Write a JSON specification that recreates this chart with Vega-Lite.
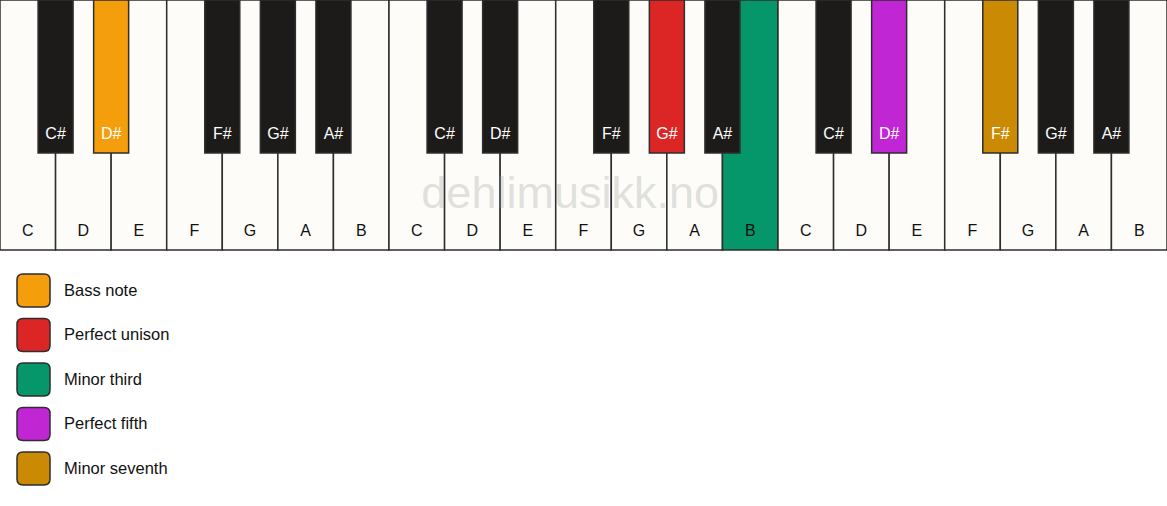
{
  "$schema": "https://vega.github.io/schema/vega-lite/v6.json",
  "width": 1167,
  "height": 506,
  "padding": 0,
  "autosize": "none",
  "background": "#ffffff",
  "data": {
    "values": [
      {"kind": "white", "note": "C", "k": 0, "role": "white"},
      {"kind": "white", "note": "D", "k": 1, "role": "white"},
      {"kind": "white", "note": "E", "k": 2, "role": "white"},
      {"kind": "white", "note": "F", "k": 3, "role": "white"},
      {"kind": "white", "note": "G", "k": 4, "role": "white"},
      {"kind": "white", "note": "A", "k": 5, "role": "white"},
      {"kind": "white", "note": "B", "k": 6, "role": "white"},
      {"kind": "white", "note": "C", "k": 7, "role": "white"},
      {"kind": "white", "note": "D", "k": 8, "role": "white"},
      {"kind": "white", "note": "E", "k": 9, "role": "white"},
      {"kind": "white", "note": "F", "k": 10, "role": "white"},
      {"kind": "white", "note": "G", "k": 11, "role": "white"},
      {"kind": "white", "note": "A", "k": 12, "role": "white"},
      {"kind": "white", "note": "B", "k": 13, "role": "Minor third"},
      {"kind": "white", "note": "C", "k": 14, "role": "white"},
      {"kind": "white", "note": "D", "k": 15, "role": "white"},
      {"kind": "white", "note": "E", "k": 16, "role": "white"},
      {"kind": "white", "note": "F", "k": 17, "role": "white"},
      {"kind": "white", "note": "G", "k": 18, "role": "white"},
      {"kind": "white", "note": "A", "k": 19, "role": "white"},
      {"kind": "white", "note": "B", "k": 20, "role": "white"},
      {"kind": "black", "note": "C#", "k": 0.5, "role": "black"},
      {"kind": "black", "note": "D#", "k": 1.5, "role": "Bass note"},
      {"kind": "black", "note": "F#", "k": 3.5, "role": "black"},
      {"kind": "black", "note": "G#", "k": 4.5, "role": "black"},
      {"kind": "black", "note": "A#", "k": 5.5, "role": "black"},
      {"kind": "black", "note": "C#", "k": 7.5, "role": "black"},
      {"kind": "black", "note": "D#", "k": 8.5, "role": "black"},
      {"kind": "black", "note": "F#", "k": 10.5, "role": "black"},
      {"kind": "black", "note": "G#", "k": 11.5, "role": "Perfect unison"},
      {"kind": "black", "note": "A#", "k": 12.5, "role": "black"},
      {"kind": "black", "note": "C#", "k": 14.5, "role": "black"},
      {"kind": "black", "note": "D#", "k": 15.5, "role": "Perfect fifth"},
      {"kind": "black", "note": "F#", "k": 17.5, "role": "Minor seventh"},
      {"kind": "black", "note": "G#", "k": 18.5, "role": "black"},
      {"kind": "black", "note": "A#", "k": 19.5, "role": "black"}
    ]
  },
  "layer": [
    {
      "transform": [{"filter": "datum.kind === 'white'"}],
      "mark": {"type": "bar", "width": 55.571, "stroke": "#2e2e2e", "strokeWidth": 1.5},
      "encoding": {
        "x": {"field": "k", "type": "quantitative", "axis": null,
              "scale": {"domain": [-0.5, 20.5], "nice": false, "zero": false, "padding": 0}},
        "y": {"datum": 0, "type": "quantitative", "axis": null,
              "scale": {"domain": [0, 506], "reverse": true, "nice": false, "zero": false, "padding": 0}},
        "y2": {"datum": 250},
        "color": {
          "field": "role",
          "type": "nominal",
          "scale": {
            "domain": ["Bass note", "Perfect unison", "Minor third", "Perfect fifth", "Minor seventh", "white", "black"],
            "range": ["#f59e0b", "#dc2626", "#059669", "#c026d3", "#ca8a04", "#fdfcf8", "#1c1b19"]
          },
          "legend": {
            "values": ["Bass note", "Perfect unison", "Minor third", "Perfect fifth", "Minor seventh"],
            "title": null,
            "orient": "none",
            "legendX": 16,
            "legendY": 273,
            "padding": 0,
            "symbolType": "M-0.64,-1L0.64,-1Q1,-1 1,-0.64L1,0.64Q1,1 0.64,1L-0.64,1Q-1,1 -1,0.64L-1,-0.64Q-1,-1 -0.64,-1Z",
            "symbolSize": 1089,
            "symbolStrokeColor": "#222222",
            "symbolStrokeWidth": 1.5,
            "symbolOpacity": 1,
            "rowPadding": 5.5,
            "labelOffset": 13,
            "labelFont": "Liberation Sans",
            "labelFontSize": 16.5,
            "labelColor": "#111111",
            "labelLimit": 300
          }
        }
      }
    },
    {
      "data": {"values": [{"label": "dehlimusikk.no", "k": 9.76, "y": 208}]},
      "mark": {"type": "text", "font": "Liberation Sans", "fontSize": 45, "fill": "#999999", "fillOpacity": 0.3, "baseline": "alphabetic", "align": "center"},
      "encoding": {
        "x": {"field": "k", "type": "quantitative"},
        "y": {"field": "y", "type": "quantitative"},
        "text": {"field": "label"}
      }
    },
    {
      "transform": [{"filter": "datum.kind === 'black'"}],
      "mark": {"type": "bar", "width": 35, "stroke": "#2e2e2e", "strokeWidth": 1.5},
      "encoding": {
        "x": {"field": "k", "type": "quantitative"},
        "y": {"datum": 0, "type": "quantitative"},
        "y2": {"datum": 153},
        "color": {"field": "role", "type": "nominal"}
      }
    },
    {
      "transform": [{"filter": "datum.kind === 'white'"}],
      "mark": {"type": "text", "font": "Liberation Sans", "fontSize": 16, "color": "#111111", "baseline": "alphabetic", "align": "center"},
      "encoding": {
        "x": {"field": "k", "type": "quantitative"},
        "y": {"datum": 236, "type": "quantitative"},
        "text": {"field": "note"}
      }
    },
    {
      "transform": [{"filter": "datum.kind === 'black'"}],
      "mark": {"type": "text", "font": "Liberation Sans", "fontSize": 16, "color": "#ffffff", "baseline": "alphabetic", "align": "center"},
      "encoding": {
        "x": {"field": "k", "type": "quantitative"},
        "y": {"datum": 139, "type": "quantitative"},
        "text": {"field": "note"}
      }
    }
  ],
  "config": {
    "view": {"stroke": null}
  }
}
